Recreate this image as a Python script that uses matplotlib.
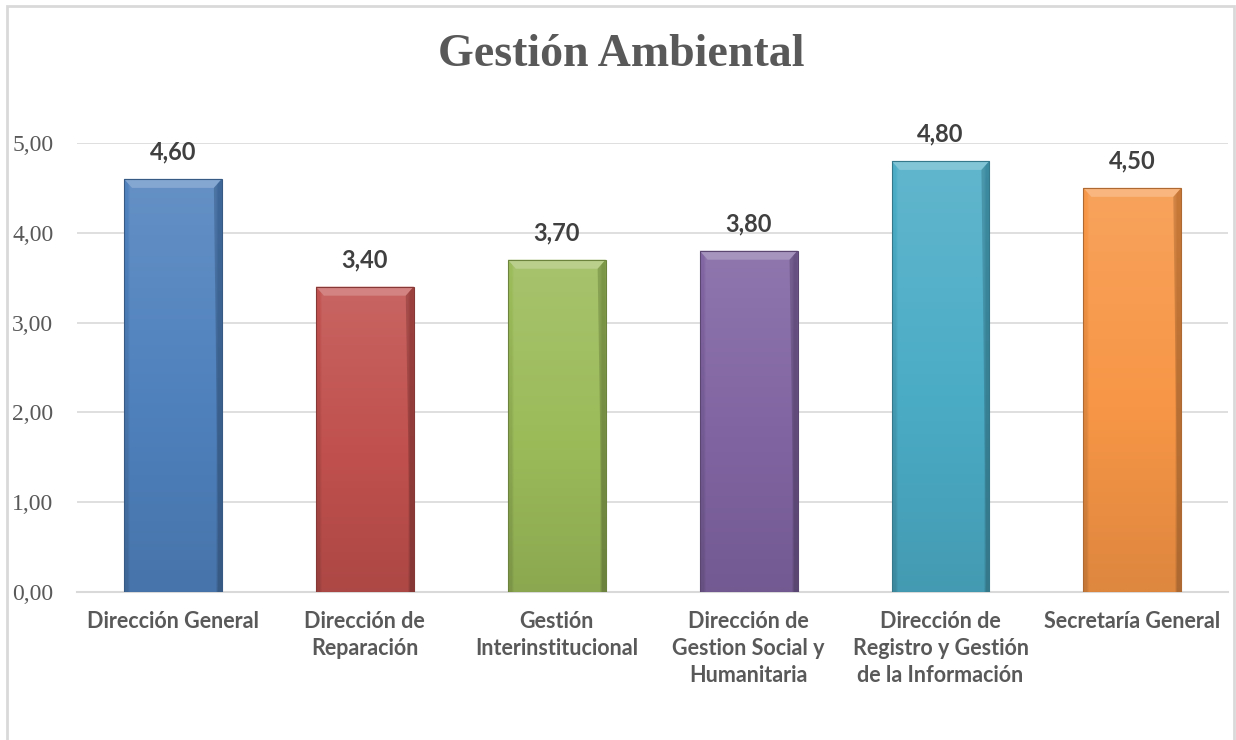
import numpy as np
import matplotlib
matplotlib.use('Agg')
import matplotlib.pyplot as plt
from matplotlib.colors import to_rgb
from matplotlib.patches import Polygon, Rectangle
from matplotlib.ticker import FuncFormatter, MultipleLocator

# data
categories = ['Dirección General', 'Dirección de\nReparación', 'Gestión\nInterinstitucional',
              'Dirección de\nGestion Social y\nHumanitaria',
              'Dirección de\nRegistro y Gestión\nde la Información', 'Secretaría General']
values = [4.60, 3.40, 3.70, 3.80, 4.80, 4.50]
bar_colors = ['#4F81BD', '#C0504D', '#9BBB59', '#8064A2', '#4BACC6', '#F79646']
title = 'Gestión Ambiental'

text_grey = '#595959'
grid_grey = '#D9D9D9'


def shade(c, f):
    c = np.array(to_rgb(c))
    if f >= 0:
        return c + (1 - c) * f
    return c * (1 + f)


def comma(v, pos=None):
    return f'{v:.2f}'.replace('.', ',')


fig = plt.figure(figsize=(12.36, 7.40), dpi=100)
ax = fig.add_axes([0.0623, 0.2, 0.9315, 0.6068])

x = np.arange(len(categories))
width = 0.51
bars = ax.bar(x, values, width=width, color=bar_colors, zorder=2, linewidth=0)

# fake the Excel bevel / gradient look
px_y = 5.0 / (0.6068 * 740)      # data units per pixel (y)
px_x = 6.0 / (0.9315 * 1236)     # data units per pixel (x)
for rect, col in zip(bars, bar_colors):
    x0 = rect.get_x()
    w = rect.get_width()
    h = rect.get_height()
    rows = np.linspace(0, 1, 60)
    cols = np.linspace(0, 1, 40)
    fv = 0.12 - 0.22 * rows
    fh = np.where(cols < 0.03, -0.1, 0.0) + np.where(cols > 0.96, -0.2, 0.0)
    img = np.zeros((len(rows), len(cols), 3))
    for i, a in enumerate(fv):
        for j, b in enumerate(fh):
            img[i, j] = shade(col, a + b)
    im = ax.imshow(np.clip(img, 0, 1), extent=(x0, x0 + w, 0, h), aspect='auto',
                   interpolation='bilinear', zorder=3)
    im.set_clip_path(rect)
    dy = 9 * px_y
    dx = 8 * px_x
    ax.add_patch(Polygon([(x0, h), (x0 + w, h), (x0 + w - dx, h - dy), (x0 + dx, h - dy)],
                         closed=True, facecolor=shade(col, 0.3), edgecolor='none', zorder=4))
    ax.add_patch(Polygon([(x0 + w, h), (x0 + w, 0), (x0 + w - 3 * px_x, 0), (x0 + w - dx, h - dy)],
                         closed=True, facecolor=shade(col, -0.3), edgecolor='none', zorder=4, alpha=0.5))
    ax.add_patch(Rectangle((x0, 0), w, h, fill=False, edgecolor=shade(col, -0.3),
                           linewidth=0.8, zorder=5))
    ax.text(x0 + w / 2, h + 27 * px_y, comma(h), ha='center', va='center',
            fontsize=17, fontweight='bold', family='Lato', color='#404040',
            clip_on=False, zorder=6)

ax.set_xlim(-0.5, len(categories) - 0.5)
ax.set_ylim(0, 5)
ax.yaxis.set_major_locator(MultipleLocator(1))
ax.yaxis.set_major_formatter(FuncFormatter(comma))
ax.grid(axis='y', color=grid_grey, linewidth=1.2, zorder=0)
ax.set_axisbelow(True)
for s in ('top', 'right', 'left'):
    ax.spines[s].set_visible(False)
ax.spines['bottom'].set_color(grid_grey)
ax.spines['bottom'].set_linewidth(1.5)

ax.set_xticks(x)
ax.set_xticklabels(categories, fontsize=15.5, fontweight='bold', family='Lato',
                   color=text_grey, linespacing=1.33, va='top')
ax.tick_params(axis='x', length=0, pad=14)
ax.tick_params(axis='y', length=0, pad=17)
for lab in ax.get_yticklabels():
    lab.set_family('Liberation Serif')
    lab.set_fontsize(17)
    lab.set_color(text_grey)

fig.text(0.503, 0.925, title, ha='center', va='center', fontsize=33, fontweight='bold',
         family='Liberation Serif', color=text_grey)

fig.patches.append(Rectangle((0.0053, -0.02), 0.9931, 1.0119, transform=fig.transFigure,
                             fill=False, edgecolor=grid_grey, linewidth=2))

fig.savefig('out.png', dpi=100)
